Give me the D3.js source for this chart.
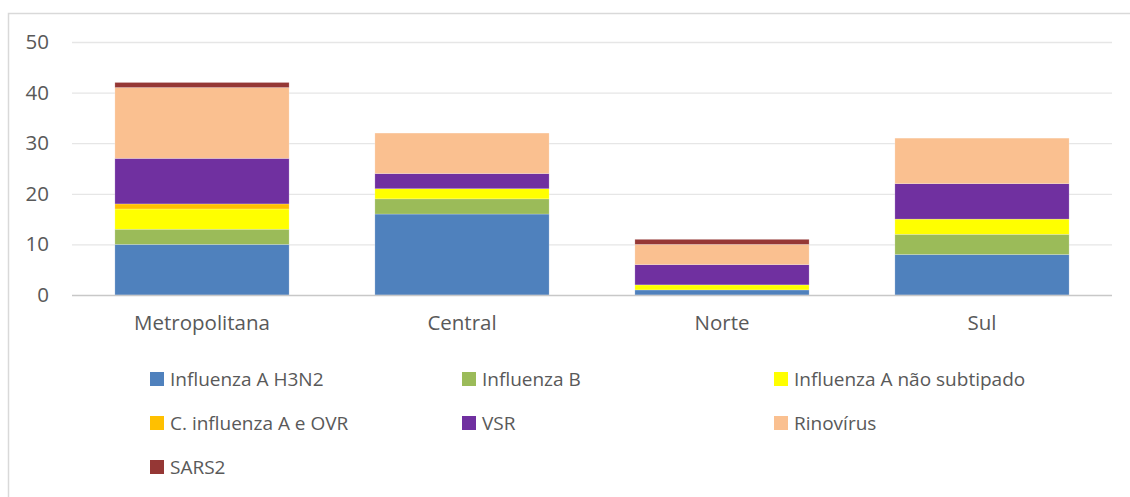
<!DOCTYPE html>
<html>
<head>
<meta charset="utf-8">
<script src="https://cdn.jsdelivr.net/npm/d3@7"></script>
<style>
  body { margin: 0; background: #fff; }
  text { font-family: "Open Sans", Lato, sans-serif; fill: #595959; }
</style>
</head>
<body>
<div id="chart"></div>
<script>
// Data
const regions = ["Metropolitana", "Central", "Norte", "Sul"];
const seriesNames = ["Influenza A H3N2", "Influenza B", "Influenza A não subtipado",
    "C. influenza A e OVR", "VSR", "Rinovírus", "SARS2"];
const h3n2 = [10, 16, 1, 8];
const fluB = [3, 3, 0, 4];
const fluANaoSub = [4, 2, 1, 3];
const coInfluenza = [1, 0, 0, 0];
const vsr = [9, 3, 4, 7];
const rinovirus = [14, 8, 4, 9];
const sars2 = [1, 0, 1, 0];
const yTicks = [0, 10, 20, 30, 40, 50];
const colors = ["#4f81bd", "#9bbb59", "#ffff00", "#ffc000", "#7030a0", "#fac090", "#953735"];

const seriesValues = [h3n2, fluB, fluANaoSub, coInfluenza, vsr, rinovirus, sars2];

// table for d3.stack
const table = regions.map((r, i) => {
    const row = {region: r};
    seriesNames.forEach((s, j) => { row[s] = seriesValues[j][i]; });
    return row;
});

const width = 1130, height = 497;
const plot = {left: 72, right: 1112, top: 42, bottom: 295};

const svg = d3.select("#chart")
    .append("svg")
    .attr("width", width)
    .attr("height", height);

// outer frame
svg.append("rect")
    .attr("x", 8.5)
    .attr("y", 13.5)
    .attr("width", width)
    .attr("height", height)
    .attr("fill", "none")
    .attr("stroke", "#d9d9d9")
    .attr("stroke-width", 1.5);

const x = d3.scaleBand()
    .domain(regions)
    .range([plot.left, plot.right])
    .paddingInner(0.33)
    .paddingOuter(0.165);

const y = d3.scaleLinear()
    .domain([0, 50])
    .range([plot.bottom, plot.top]);

// gridlines
svg.append("g")
    .selectAll("line")
    .data(yTicks.filter(d => d > 0))
    .enter()
    .append("line")
    .attr("x1", plot.left)
    .attr("x2", plot.right)
    .attr("y1", d => y(d) + 0.5)
    .attr("y2", d => y(d) + 0.5)
    .attr("stroke", "#e6e6e6")
    .attr("stroke-width", 1.3);

// y axis labels
const yAxis = d3.axisLeft(y)
    .tickValues(yTicks)
    .tickSize(0)
    .tickPadding(23);

svg.append("g")
    .attr("transform", `translate(${plot.left},0)`)
    .call(yAxis)
    .call(g => g.select(".domain").remove())
    .selectAll("text")
    .style("font-size", "20.5px")
    .style("font-family", "\"Open Sans\", Lato, sans-serif")
    .attr("fill", "#595959");

const stack = d3.stack().keys(seriesNames);
const layers = stack(table);

svg.append("g")
    .selectAll("g")
    .data(layers)
    .enter()
    .append("g")
    .attr("fill", (d, i) => colors[i])
    .selectAll("rect")
    .data(d => d)
    .enter()
    .append("rect")
    .attr("x", d => x(d.data.region))
    .attr("y", d => y(d[1]))
    .attr("width", x.bandwidth())
    .attr("height", d => y(d[0]) - y(d[1]))
    .attr("stroke", "#ffffff")
    .attr("stroke-opacity", 0.35)
    .attr("stroke-width", 0.6);

// baseline
svg.append("line")
    .attr("x1", plot.left)
    .attr("x2", plot.right)
    .attr("y1", plot.bottom + 0.5)
    .attr("y2", plot.bottom + 0.5)
    .attr("stroke", "#c8c8c8")
    .attr("stroke-width", 1.5);

// category labels
const xAxis = d3.axisBottom(x)
    .tickSize(0)
    .tickPadding(20);

svg.append("g")
    .attr("transform", `translate(0,${plot.bottom})`)
    .call(xAxis)
    .call(g => g.select(".domain").remove())
    .selectAll("text")
    .style("font-size", "20.5px")
    .style("font-family", "\"Open Sans\", Lato, sans-serif")
    .attr("fill", "#595959");

// legend, 3 columns
const legend = svg.append("g");
const legendItems = legend.selectAll("g")
    .data(seriesNames)
    .enter()
    .append("g")
    .attr("transform", (d, i) => `translate(${150 + (i % 3) * 312},${379 + Math.floor(i / 3) * 44})`);

legendItems.append("rect")
    .attr("x", 0)
    .attr("y", -7)
    .attr("width", 14)
    .attr("height", 14)
    .attr("fill", (d, i) => colors[i]);

legendItems.append("text")
    .attr("x", 20)
    .attr("y", 0)
    .attr("dy", "0.35em")
    .style("font-size", "19px")
    .text(d => d);
</script>
</body>
</html>
